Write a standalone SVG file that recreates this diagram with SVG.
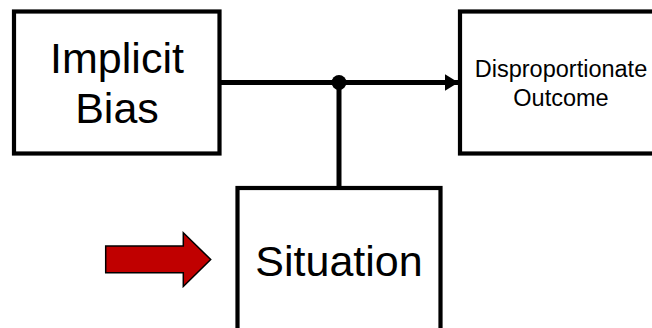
<svg xmlns="http://www.w3.org/2000/svg" width="652" height="328" viewBox="0 0 652 328">
  <style>
    .box { fill: #ffffff; stroke: #000000; stroke-width: 4.2; }
    .wire { fill: none; stroke: #000000; stroke-width: 5; }
    .label { font-family: "Liberation Sans", Arial, sans-serif; fill: #000000; text-anchor: middle; }
    .big { font-size: 43px; }
    .small { font-size: 23.5px; }
  </style>
  <defs>
    <marker id="head" markerUnits="userSpaceOnUse" markerWidth="16" markerHeight="18" refX="14" refY="8.5" orient="auto">
      <path d="M0,0 L14,8.5 L0,17 Z" fill="#000000"/>
    </marker>
  </defs>
  <rect width="652" height="328" fill="#ffffff"/>

  <g id="connectors">
    <line class="wire" x1="219.5" y1="82.5" x2="458.5" y2="82.5" marker-end="url(#head)"/>
    <line class="wire" x1="339" y1="82.5" x2="339" y2="188"/>
    <circle cx="339" cy="82.5" r="7.5" fill="#000000"/>
  </g>

  <g id="implicit-bias">
    <rect class="box" x="14" y="11.5" width="205.5" height="142"/>
    <text class="label big" x="117" y="73">Implicit</text>
    <text class="label big" x="117" y="123">Bias</text>
  </g>

  <g id="disproportionate-outcome">
    <rect class="box" x="460" y="11.5" width="210" height="142"/>
    <text class="label small" x="561" y="76.5">Disproportionate</text>
    <text class="label small" x="561" y="106">Outcome</text>
  </g>

  <g id="situation">
    <rect class="box" x="237.5" y="188" width="203" height="160"/>
    <text class="label big" x="339" y="276">Situation</text>
  </g>

  <g id="pointer">
    <path d="M105.7,246 L183.3,246 L183.3,232.7 L210.7,259.5 L183.3,286.5 L183.3,272.8 L105.7,272.8 Z" fill="#C00000" stroke="#000000" stroke-width="1.5" stroke-linejoin="miter"/>
  </g>
</svg>
